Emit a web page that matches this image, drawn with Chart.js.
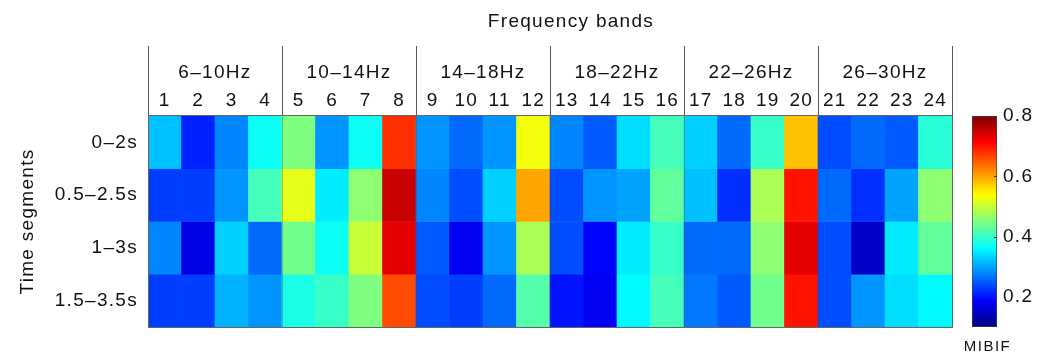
<!DOCTYPE html>
<html>
<head>
<meta charset="utf-8">
<script src="https://cdn.jsdelivr.net/npm/chart.js@4/dist/chart.umd.min.js"></script>
<style>
  html, body { margin: 0; padding: 0; background: #fff; }
  #wrap { position: relative; width: 1045px; height: 354px; }
  #main { position: absolute; left: 0; top: 0; }
  #cbar { position: absolute; left: 955px; top: 0; }
</style>
</head>
<body>
<div id="wrap">
  <canvas id="main" width="1045" height="354"></canvas>
  <canvas id="cbar" width="90" height="354"></canvas>
</div>
<script>
// Frequency sub-bands (columns) and their grouping into 4 Hz bands
const bandNumbers = ['1','2','3','4','5','6','7','8','9','10','11','12',
                     '13','14','15','16','17','18','19','20','21','22','23','24'];
const bandGroups = ['6–10Hz', '10–14Hz', '14–18Hz', '18–22Hz', '22–26Hz', '26–30Hz'];
const bandsPerGroup = 4;

// Time segments (rows)
const timeSegments = ['0–2s', '0.5–2.5s', '1–3s', '1.5–3.5s'];

// MIBIF per time segment, one value per frequency sub-band
const mibif_0_2 =     [0.32,0.21,0.28,0.37,0.45,0.29,0.37,0.68,0.29,0.26,0.29,0.53,0.28,0.25,0.34,0.41,0.33,0.26,0.40,0.58,0.24,0.26,0.25,0.39];
const mibif_05_25 =   [0.23,0.23,0.29,0.41,0.52,0.35,0.46,0.75,0.28,0.24,0.33,0.60,0.24,0.29,0.30,0.43,0.32,0.22,0.48,0.70,0.26,0.22,0.30,0.46];
const mibif_1_3 =     [0.28,0.17,0.33,0.26,0.44,0.37,0.50,0.73,0.25,0.18,0.29,0.48,0.24,0.19,0.35,0.40,0.26,0.26,0.46,0.73,0.24,0.15,0.35,0.43];
const mibif_15_35 =   [0.23,0.23,0.31,0.29,0.38,0.40,0.45,0.66,0.24,0.23,0.26,0.42,0.20,0.18,0.36,0.41,0.27,0.25,0.44,0.70,0.24,0.29,0.34,0.36];
const mibifRows = [mibif_0_2, mibif_05_25, mibif_1_3, mibif_15_35];

// Colour scale limits and colourbar ticks
const colorMin = 0.1;
const colorMax = 0.8;
const colorTicks = [0.2, 0.4, 0.6, 0.8];

const FONT = "'Liberation Sans', Arial, Helvetica, sans-serif";
const TEXT = '#111';
const SIZE = 19;
const SPACING = '1.3px';

// Jet colormap as piecewise-linear stops
const JET = [
  [0.000, [0, 0, 0.5]],
  [0.125, [0, 0, 1]],
  [0.375, [0, 1, 1]],
  [0.625, [1, 1, 0]],
  [0.875, [1, 0, 0]],
  [1.000, [0.5, 0, 0]]
];
function jet(t) {
  t = Math.max(0, Math.min(1, t));
  for (let i = 1; i < JET.length; i++) {
    const [t1, c1] = JET[i];
    const [t0, c0] = JET[i - 1];
    if (t <= t1) {
      const f = (t - t0) / (t1 - t0);
      const c = c0.map((v, k) => Math.round(255 * (v + (c1[k] - v) * f)));
      return `rgb(${c[0]},${c[1]},${c[2]})`;
    }
  }
  return 'rgb(128,0,0)';
}
function colorFor(v) { return jet((v - colorMin) / (colorMax - colorMin)); }

// Slightly wider letter spacing for all chart text
const spacingPlugin = {
  id: 'spacing',
  beforeUpdate(chart) { chart.ctx.letterSpacing = SPACING; },
  beforeLayout(chart) { chart.ctx.letterSpacing = SPACING; },
  beforeDraw(chart) { chart.ctx.letterSpacing = SPACING; }
};

// Frame, band-group separators and the header title
const framePlugin = {
  id: 'frame',
  afterDraw(chart) {
    const { ctx, chartArea: a, scales } = chart;
    const x = scales.x;
    const cell = (x.getPixelForValue(1) - x.getPixelForValue(0));
    const left = x.getPixelForValue(0) - cell / 2;
    ctx.save();
    ctx.lineWidth = 1;
    // faint boundaries inside the map
    ctx.strokeStyle = 'rgba(70,70,70,0.35)';
    for (let g = 1; g < bandGroups.length; g++) {
      const px = Math.round(left + g * bandsPerGroup * cell) + 0.5;
      ctx.beginPath(); ctx.moveTo(px, a.top); ctx.lineTo(px, a.bottom); ctx.stroke();
    }
    // header separators
    ctx.strokeStyle = '#555';
    const headTop = 46;
    for (let g = 0; g <= bandGroups.length; g++) {
      const px = Math.round(left + g * bandsPerGroup * cell) + 0.5;
      ctx.beginPath(); ctx.moveTo(px, headTop); ctx.lineTo(px, a.top); ctx.stroke();
    }
    // frame
    ctx.strokeStyle = '#666';
    ctx.strokeRect(Math.round(a.left) + 0.5, Math.round(a.top) - 0.5,
                   Math.round(a.right - a.left), Math.round(a.bottom - a.top) + 1);
    // header title
    ctx.fillStyle = TEXT;
    ctx.font = `${SIZE}px ${FONT}`;
    ctx.textAlign = 'center';
    ctx.textBaseline = 'middle';
    ctx.fillText('Frequency bands', (a.left + a.right) / 2 + 21, 22);
    ctx.restore();
  }
};

const datasets = mibifRows.map((row, r) => ({
  label: timeSegments[r],
  data: row.map(() => [r, r + 1]),
  backgroundColor: row.map(colorFor),
  borderWidth: 0,
  grouped: false,
  barPercentage: 1,
  categoryPercentage: 1
}));

new Chart(document.getElementById('main'), {
  type: 'bar',
  data: { labels: bandNumbers, datasets },
  options: {
    responsive: false,
    animation: false,
    layout: { padding: { left: 0, right: 93, top: 0, bottom: 27 } },
    plugins: { legend: { display: false }, tooltip: { enabled: false } },
    scales: {
      x: {
        position: 'top',
        weight: 0,
        grid: { display: false, drawTicks: false },
        border: { display: false },
        ticks: { font: { family: FONT, size: SIZE }, color: TEXT, padding: 4, maxRotation: 0, autoSkip: false },
        afterFit(axis) { axis.height = 30; }
      },
      x2: {
        type: 'category',
        labels: bandGroups,
        position: 'top',
        weight: 1,
        offset: true,
        grid: { display: false, drawTicks: false },
        border: { display: false },
        ticks: { font: { family: FONT, size: SIZE }, color: TEXT, padding: 2, maxRotation: 0 },
        afterFit(axis) { axis.height = 86; }
      },
      y: {
        type: 'linear',
        min: 0,
        max: timeSegments.length,
        reverse: true,
        grid: { display: false, drawTicks: false },
        border: { display: false },
        afterBuildTicks(axis) { axis.ticks = timeSegments.map((_, i) => ({ value: i + 0.5 })); },
        ticks: {
          font: { family: FONT, size: SIZE }, color: TEXT, padding: 10,
          callback: (v) => timeSegments[Math.floor(v)]
        },
        title: { display: true, text: 'Time segments', font: { family: FONT, size: SIZE }, color: TEXT, padding: { top: 16, bottom: 0 } },
        afterFit(axis) { axis.width = 148; }
      }
    }
  },
  plugins: [spacingPlugin, framePlugin]
});

// Colourbar: tick marks on the inner edge and the quantity name below
const cbarTicksPlugin = {
  id: 'cbarTicks',
  afterDatasetsDraw(chart) {
    const { ctx, chartArea: a, scales } = chart;
    ctx.save();
    ctx.strokeStyle = '#333';
    ctx.lineWidth = 1;
    colorTicks.forEach(v => {
      const py = Math.round(scales.y.getPixelForValue(v)) + 0.5;
      ctx.beginPath(); ctx.moveTo(a.right - 3, py); ctx.lineTo(a.right, py); ctx.stroke();
    });
    ctx.fillStyle = TEXT;
    ctx.font = `15px ${FONT}`;
    ctx.letterSpacing = '1.5px';
    ctx.textAlign = 'center';
    ctx.textBaseline = 'middle';
    ctx.fillText('MIBIF', (a.left + a.right) / 2 + 3, 347);
    ctx.restore();
  }
};

new Chart(document.getElementById('cbar'), {
  type: 'bar',
  data: {
    labels: ['MIBIF'],
    datasets: [{
      data: [[colorMin, colorMax]],
      backgroundColor(ctx) {
        const chart = ctx.chart;
        if (!chart.chartArea) return 'transparent';
        const y = chart.scales.y;
        const g = chart.ctx.createLinearGradient(0, y.getPixelForValue(colorMin), 0, y.getPixelForValue(colorMax));
        JET.forEach(([t, c]) => g.addColorStop(t, `rgb(${c.map(v => Math.round(v * 255)).join(',')})`));
        return g;
      },
      borderColor: '#444',
      borderWidth: 1,
      borderSkipped: false,
      barPercentage: 1,
      categoryPercentage: 1
    }]
  },
  options: {
    responsive: false,
    animation: false,
    layout: { padding: { left: 17, right: 0, top: 116, bottom: 27 } },
    plugins: { legend: { display: false }, tooltip: { enabled: false } },
    scales: {
      x: { display: false },
      y: {
        position: 'right',
        min: colorMin,
        max: colorMax,
        grid: { display: false, drawTicks: false },
        border: { display: false },
        afterBuildTicks(axis) { axis.ticks = colorTicks.map(v => ({ value: v })); },
        ticks: { font: { family: FONT, size: SIZE }, color: TEXT, padding: 6, callback: v => v.toFixed(1) },
        afterFit(axis) { axis.width = 48; }
      }
    }
  },
  plugins: [spacingPlugin, cbarTicksPlugin]
});
</script>
</body>
</html>
